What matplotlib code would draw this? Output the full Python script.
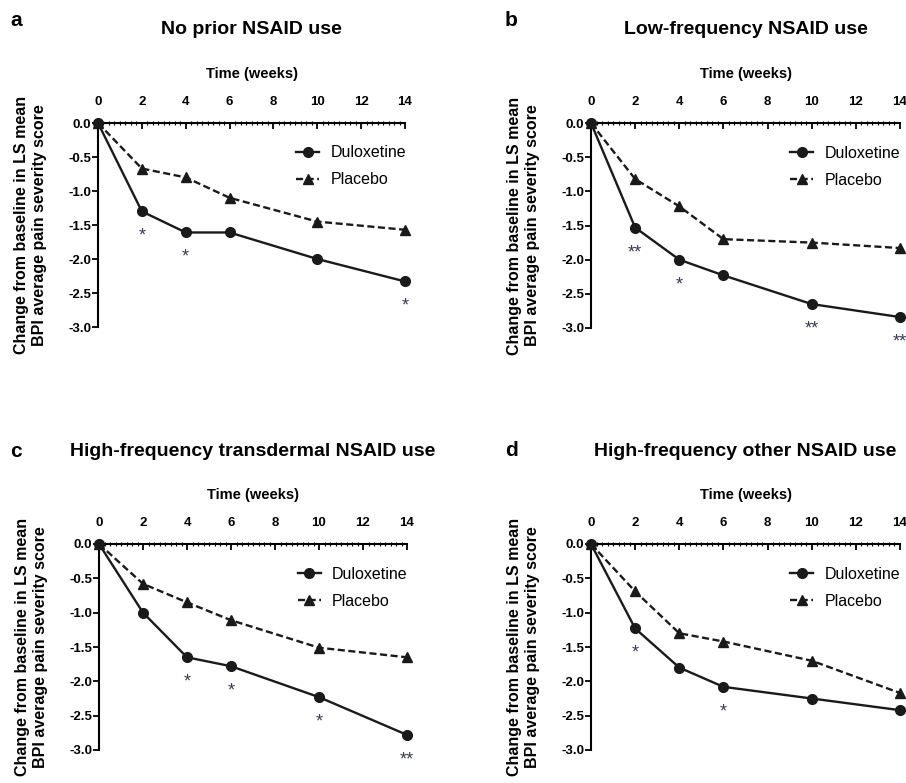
import matplotlib
matplotlib.use("Agg")
import matplotlib.pyplot as plt
from matplotlib.ticker import MultipleLocator

plt.rcParams['font.family'] = ['Liberation Sans', 'DejaVu Sans']

weeks = [0, 2, 4, 6, 10, 14]

titles = ["No prior NSAID use",
          "Low-frequency NSAID use",
          "High-frequency transdermal NSAID use",
          "High-frequency other NSAID use"]
letters = ["a", "b", "c", "d"]

dulox_a = [0, -1.30, -1.61, -1.61, -2.00, -2.33]
placebo_a = [0, -0.67, -0.80, -1.10, -1.45, -1.57]
dulox_b = [0, -1.53, -2.00, -2.23, -2.65, -2.84]
placebo_b = [0, -0.82, -1.22, -1.70, -1.75, -1.83]
dulox_c = [0, -1.00, -1.65, -1.78, -2.23, -2.78]
placebo_c = [0, -0.58, -0.85, -1.11, -1.51, -1.65]
dulox_d = [0, -1.23, -1.80, -2.08, -2.25, -2.42]
placebo_d = [0, -0.69, -1.30, -1.42, -1.70, -2.17]

# significance marks under the duloxetine points (week -> label)
stars_a = {2: "*", 4: "*", 14: "*"}
stars_b = {2: "**", 4: "*", 10: "**", 14: "**"}
stars_c = {4: "*", 6: "*", 10: "*", 14: "**"}
stars_d = {2: "*", 6: "*"}

yticks = [0.0, -0.5, -1.0, -1.5, -2.0, -2.5, -3.0]
xticks = [0, 2, 4, 6, 8, 10, 12, 14]

dulox_all = [dulox_a, dulox_b, dulox_c, dulox_d]
placebo_all = [placebo_a, placebo_b, placebo_c, placebo_d]
stars_all = [stars_a, stars_b, stars_c, stars_d]

W, H = 906, 783
fig = plt.figure(figsize=(W / 100, H / 100), dpi=100)

# axes boxes in pixels: left, right, top(y=0), bottom(y=-3)
boxes = [(98, 405, 123, 327), (591, 900, 123, 328),
         (99, 407, 544, 750), (591, 900, 544, 750)]
title_y = [30, 30, 451, 452]
letter_xy = [(10, 20), (505, 20), (10, 452), (505, 450)]

for i in range(4):
    l, r, t, b = boxes[i]
    ax = fig.add_axes([l / W, 1 - b / H, (r - l) / W, (b - t) / H])
    ax.plot(weeks, dulox_all[i], '-o', color='#1a1a1a', lw=1.7, ms=7,
            label='Duloxetine', clip_on=False, zorder=4)
    ax.plot(weeks, placebo_all[i], '--^', color='#1a1a1a', lw=1.7, ms=7,
            dashes=(3, 1.5), label='Placebo', clip_on=False, zorder=3)
    for wk, s in stars_all[i].items():
        yv = dulox_all[i][weeks.index(wk)]
        ax.annotate(s, (wk, yv), xytext=(0, -18), textcoords='offset points',
                    ha='center', va='center', fontsize=13, color='#3a3a55',
                    annotation_clip=False)
    ax.set_xlim(0, 14)
    ax.set_ylim(-3.0, 0)
    ax.set_xticks(xticks)
    ax.set_yticks(yticks)
    ax.set_yticklabels([f"{v:.1f}" for v in yticks])
    ax.xaxis.set_minor_locator(MultipleLocator(0.25))
    ax.xaxis.tick_top()
    ax.xaxis.set_label_position('top')
    ax.spines['right'].set_visible(False)
    ax.spines['bottom'].set_visible(False)
    ax.spines['left'].set_linewidth(1.5)
    ax.spines['top'].set_linewidth(1.5)
    ax.tick_params(axis='x', which='major', direction='in', length=4, width=1.3,
                   labelsize=9.5, pad=11)
    ax.tick_params(axis='x', which='minor', direction='inout', length=2.5, width=0.8)
    ax.tick_params(axis='y', which='major', direction='out', length=4, width=1.3,
                   labelsize=9.5, pad=1)
    for lab in ax.get_xticklabels() + ax.get_yticklabels():
        lab.set_fontweight('bold')
    ax.set_xlabel("Time (weeks)", fontsize=10.5, fontweight='bold', labelpad=13)
    ax.set_ylabel("Change from baseline in LS mean\nBPI average pain severity score",
                  fontsize=11.5, fontweight='bold', labelpad=15, linespacing=1.3)
    ax.legend(loc='upper left', bbox_to_anchor=(0.645, 0.89), frameon=False,
              fontsize=11.5, handlelength=1.45, handletextpad=0.7, labelspacing=0.75,
              borderaxespad=0, borderpad=0)
    fig.text((l + r) / 2 / W, 1 - title_y[i] / H, titles[i], fontsize=14,
             fontweight='bold', ha='center', va='center')
    fig.text(letter_xy[i][0] / W, 1 - letter_xy[i][1] / H, letters[i],
             fontsize=15, fontweight='bold', va='center', ha='left')

fig.savefig("out.png", dpi=100)
